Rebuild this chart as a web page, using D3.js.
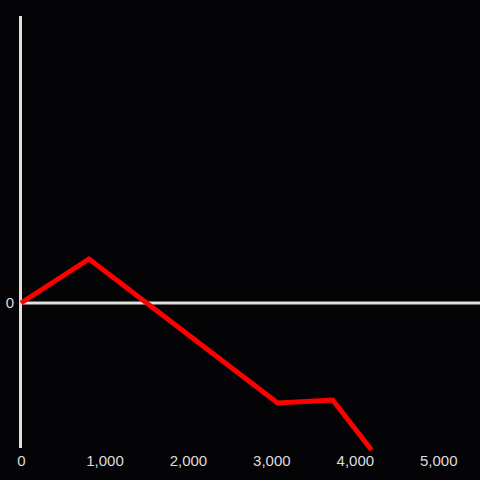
<!DOCTYPE html>
<html>
<head>
<meta charset="utf-8">
<script src="https://cdn.jsdelivr.net/npm/d3@7"></script>
<style>
  html, body { margin: 0; padding: 0; background: #040305; }
  svg { display: block; }
</style>
</head>
<body>
<div id="chart"></div>
<script>
// data
const xValues = [0, 815, 3075, 3735, 4200];
const yValues = [0, 440, -1000, -970, -1470];
const xTicks = [0, 1000, 2000, 3000, 4000, 5000];
const yTicks = [0];

const width = 480, height = 480;
const margin = { top: 16, right: 0, bottom: 32, left: 21 };
const font = "'Liberation Sans', Arial, sans-serif";

const svg = d3.select("#chart")
  .append("svg")
  .attr("width", width)
  .attr("height", height);

svg.append("rect")
  .attr("width", width)
  .attr("height", height)
  .attr("fill", "#040305");

const x = d3.scaleLinear()
  .domain([0, 5500])
  .range([margin.left, width - margin.right]);

const y = d3.scaleLinear()
  .domain([-1450, 2870])
  .range([height - margin.bottom, margin.top]);

// x tick labels
const xAxis = svg.append("g")
  .attr("transform", `translate(0,${height - 28})`)
  .call(d3.axisBottom(x).tickValues(xTicks).tickSize(0).tickFormat(d3.format(",")));
xAxis.select(".domain").remove();
xAxis.selectAll("text")
  .attr("fill", "#dddddd")
  .attr("font-family", font)
  .attr("font-size", "15px")
  .style("font-family", font)
  .style("font-size", "15px");

// y tick labels
const yAxis = svg.append("g")
  .attr("transform", `translate(${margin.left - 4},0)`)
  .call(d3.axisLeft(y).tickValues(yTicks).tickSize(0).tickFormat(d3.format(",")));
yAxis.select(".domain").remove();
yAxis.selectAll("text")
  .attr("fill", "#dddddd")
  .style("font-family", font)
  .style("font-size", "15px");

// zero line
svg.append("line")
  .attr("x1", x(0)).attr("x2", width)
  .attr("y1", y(0)).attr("y2", y(0))
  .attr("stroke", "#e0e0e0")
  .attr("stroke-width", 3);

// y axis line
svg.append("line")
  .attr("x1", x(0) - 0.5).attr("x2", x(0) - 0.5)
  .attr("y1", margin.top).attr("y2", height - margin.bottom)
  .attr("stroke", "#e0e0e0")
  .attr("stroke-width", 3);

const points = xValues.map((d, i) => [d, yValues[i]]);

svg.append("clipPath")
  .attr("id", "plot-clip")
  .append("rect")
  .attr("x", 0).attr("y", 0)
  .attr("width", width).attr("height", height - 29);

svg.append("path")
  .datum(points)
  .attr("clip-path", "url(#plot-clip)")
  .attr("fill", "none")
  .attr("stroke", "#ff0000")
  .attr("stroke-width", 5)
  .attr("stroke-linejoin", "miter")
  .attr("d", d3.line().x(d => x(d[0])).y(d => y(d[1])));
</script>
</body>
</html>
